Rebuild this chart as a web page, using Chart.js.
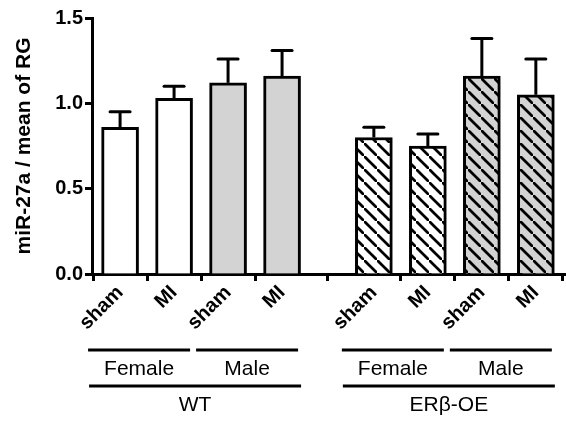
<!DOCTYPE html>
<html>
<head>
<meta charset="utf-8">
<script src="https://cdn.jsdelivr.net/npm/chart.js@4.4.1/dist/chart.umd.min.js"></script>
<style>
html, body { margin: 0; padding: 0; background: #fff; }
</style>
</head>
<body>
<canvas id="chart" width="566" height="424"></canvas>
<script>
// data
const treatments = ['sham', 'MI', 'sham', 'MI', 'sham', 'MI', 'sham', 'MI'];
const sexes = ['Female', 'Male', 'Female', 'Male'];
const genotypes = ['WT', 'ERβ-OE'];
const means = [0.86, 1.03, 1.12, 1.16, 0.80, 0.75, 1.16, 1.05];
const sem = [0.09, 0.07, 0.14, 0.15, 0.06, 0.07, 0.22, 0.21];

// x position of each bar: gap between the two genotypes
const pos = i => i + (i >= 4 ? 0.7 : 0);

function hatch(bg) {
    const s = 13;
    const c = document.createElement('canvas');
    c.width = s; c.height = s;
    const g = c.getContext('2d');
    g.fillStyle = bg;
    g.fillRect(0, 0, s, s);
    g.strokeStyle = '#000';
    g.lineWidth = 2.7;
    g.beginPath();
    g.moveTo(-3, -3); g.lineTo(s + 3, s + 3);
    g.stroke();
    return g.createPattern(c, 'repeat');
}

const GRAY = '#d3d3d3';
const fills = means.map((m, i) => {
    const bg = Math.floor(i / 2) % 2 === 1 ? GRAY : '#ffffff';
    return i >= 4 ? hatch(bg) : bg;
});

const extras = {
    id: 'extras',
    afterDatasetsDraw(chart) {
        const { ctx, chartArea, scales: { x, y } } = chart;
        ctx.save();
        ctx.strokeStyle = '#000';
        ctx.fillStyle = '#000';
        ctx.lineWidth = 3;
        // error bars (upper only)
        means.forEach((m, i) => {
            const px = x.getPixelForValue(pos(i));
            const top = y.getPixelForValue(m);
            const hi = y.getPixelForValue(m + sem[i]);
            ctx.beginPath();
            ctx.moveTo(px, top);
            ctx.lineTo(px, hi);
            ctx.stroke();
            ctx.beginPath();
            ctx.lineCap = 'round';
            ctx.moveTo(px - 10, hi);
            ctx.lineTo(px + 10, hi);
            ctx.stroke();
            ctx.lineCap = 'butt';
        });
        // group brackets
        const b = chartArea.bottom;
        ctx.font = '21px "Liberation Sans", Arial, sans-serif';
        ctx.textAlign = 'center';
        ctx.textBaseline = 'middle';
        sexes.forEach((s, g) => {
            const c = (x.getPixelForValue(pos(2 * g)) + x.getPixelForValue(pos(2 * g + 1))) / 2 - 8;
            ctx.beginPath();
            ctx.moveTo(c - 51, b + 76);
            ctx.lineTo(c + 51, b + 76);
            ctx.stroke();
            ctx.fillText(s, c, b + 95);
        });
        genotypes.forEach((s, g) => {
            const c = (x.getPixelForValue(pos(4 * g)) + x.getPixelForValue(pos(4 * g + 3))) / 2 - 6;
            ctx.beginPath();
            ctx.moveTo(c - 106, b + 112);
            ctx.lineTo(c + 106, b + 112);
            ctx.stroke();
            ctx.fillText(s, c, b + 131);
        });
        ctx.restore();
    }
};

Chart.defaults.font.family = '"Liberation Sans", Arial, sans-serif';
Chart.defaults.color = '#000';

const ctx = document.getElementById('chart').getContext('2d');
const chart = new Chart(ctx, {
    type: 'bar',
    data: {
        datasets: [{
            data: means.map((m, i) => ({ x: pos(i), y: m })),
            backgroundColor: fills,
            borderColor: '#000',
            borderWidth: 3,
            barThickness: 37
        }]
    },
    options: {
        responsive: false,
        animation: false,
        layout: { padding: { top: 18, right: 1, left: 0, bottom: 0 } },
        plugins: { legend: { display: false }, tooltip: { enabled: false } },
        scales: {
            x: {
                type: 'linear',
                min: -0.52,
                max: 8.24,
                offset: false,
                border: { color: '#000', width: 3 },
                grid: { drawOnChartArea: false, tickLength: 7, tickWidth: 3, tickColor: '#000' },
                afterBuildTicks: axis => { axis.ticks = means.map((m, i) => ({ value: pos(i) })); },
                afterFit: axis => { axis.height = 150; },
                ticks: {
                    autoSkip: false,
                    minRotation: 45,
                    maxRotation: 45,
                    padding: 0,
                    font: { size: 20, weight: 'bold' },
                    callback: (v, i) => treatments[i]
                }
            },
            y: {
                min: 0,
                max: 1.5,
                border: { color: '#000', width: 3 },
                grid: { drawOnChartArea: false, tickLength: 7, tickWidth: 3, tickColor: '#000' },
                afterFit: axis => { axis.width = 92; },
                ticks: {
                    stepSize: 0.5,
                    padding: 2,
                    font: { size: 20, weight: 'bold' },
                    callback: v => v.toFixed(1)
                },
                title: {
                    display: true,
                    text: 'miR-27a / mean of RG',
                    font: { size: 21, weight: 'bold' },
                    padding: { top: 12, bottom: 0 }
                }
            }
        }
    },
    plugins: [extras]
});
</script>
</body>
</html>
